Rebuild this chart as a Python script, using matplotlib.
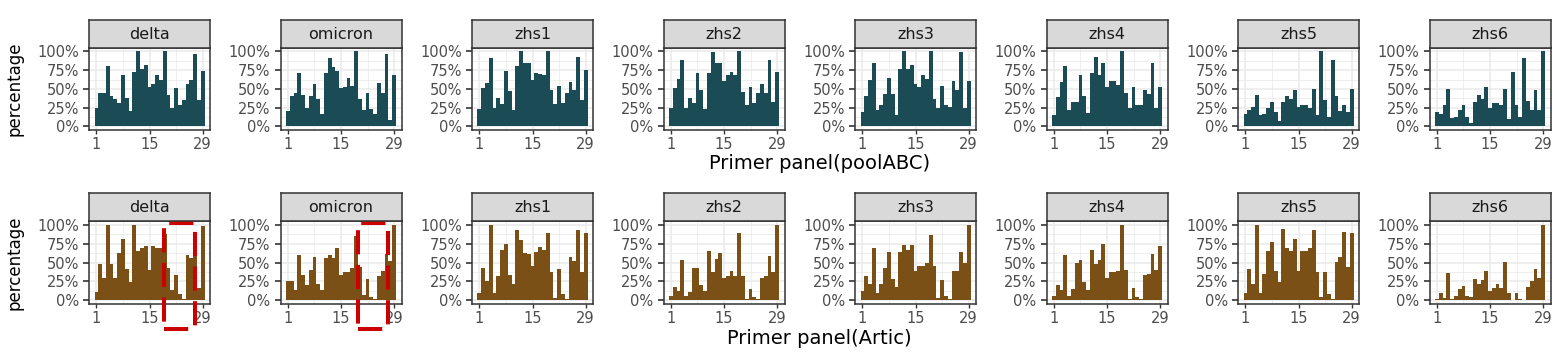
import numpy as np
import matplotlib
matplotlib.use("Agg")
import matplotlib.pyplot as plt
from matplotlib.patches import Rectangle
from matplotlib.ticker import FuncFormatter

# 样本 / 扩增子编号
samples = ["delta", "omicron", "zhs1", "zhs2", "zhs3", "zhs4", "zhs5", "zhs6"]
amplicons = np.arange(1, 30)
x_ticks = [1, 15, 29]
y_ticks = [0, 0.25, 0.5, 0.75, 1.0]

# poolABC 覆盖比例
abc_delta = [0.25, 0.44, 0.45, 0.81, 0.40, 0.36, 0.31, 0.68, 0.38, 0.20, 0.72, 1.00, 0.77, 0.82, 0.52,
             0.56, 0.68, 0.62, 1.00, 0.42, 0.25, 0.51, 0.29, 0.35, 0.57, 0.62, 0.96, 0.35, 0.74]
abc_omicron = [0.21, 0.40, 0.45, 0.71, 0.42, 0.25, 0.40, 0.57, 0.37, 0.17, 0.71, 0.91, 0.79, 0.74, 0.51,
               0.53, 0.64, 0.54, 1.00, 0.36, 0.22, 0.45, 0.23, 0.16, 0.58, 0.44, 0.97, 0.09, 0.68]
abc_zhs1 = [0.23, 0.51, 0.58, 0.91, 0.24, 0.38, 0.30, 0.74, 0.47, 0.22, 0.80, 1.00, 0.85, 0.84, 0.62,
            0.71, 0.70, 0.68, 1.00, 0.49, 0.30, 0.54, 0.31, 0.44, 0.59, 0.49, 0.92, 0.35, 0.75]
abc_zhs2 = [0.24, 0.51, 0.63, 0.88, 0.24, 0.38, 0.31, 0.71, 0.48, 0.23, 0.71, 0.99, 0.85, 0.84, 0.61,
            0.68, 0.72, 0.68, 1.00, 0.46, 0.28, 0.53, 0.31, 0.45, 0.56, 0.45, 0.88, 0.33, 0.73]
abc_zhs3 = [0.19, 0.40, 0.62, 0.84, 0.22, 0.28, 0.43, 0.65, 0.43, 0.15, 0.76, 1.00, 0.76, 0.82, 0.56,
            0.53, 0.69, 0.63, 1.00, 0.37, 0.24, 0.54, 0.28, 0.26, 0.61, 0.48, 0.99, 0.25, 0.61]
abc_zhs4 = [0.15, 0.39, 0.59, 0.80, 0.22, 0.33, 0.32, 0.68, 0.40, 0.18, 0.71, 0.92, 0.68, 0.84, 0.53,
            0.61, 0.61, 0.55, 1.00, 0.44, 0.24, 0.52, 0.28, 0.28, 0.48, 0.43, 0.84, 0.24, 0.52]
abc_zhs5 = [0.16, 0.22, 0.26, 0.42, 0.15, 0.17, 0.25, 0.32, 0.19, 0.07, 0.33, 0.40, 0.37, 0.48, 0.26,
            0.28, 0.28, 0.25, 0.50, 0.15, 1.00, 0.35, 0.13, 0.88, 0.40, 0.20, 0.28, 0.19, 0.50]
abc_zhs6 = [0.19, 0.17, 0.28, 0.50, 0.11, 0.13, 0.22, 0.29, 0.12, 0.04, 0.33, 0.42, 0.36, 0.52, 0.24,
            0.31, 0.31, 0.28, 0.50, 0.10, 0.73, 0.29, 0.12, 0.91, 0.34, 0.22, 0.48, 0.22, 1.00]

# Artic 覆盖比例
artic_delta = [0.11, 0.48, 0.30, 1.00, 0.48, 0.29, 0.63, 0.82, 0.42, 0.24, 1.00, 0.66, 0.70, 0.72, 0.40,
               0.72, 0.70, 0.70, 0.88, 0.43, 0.13, 0.34, 0.08, 0.01, 0.60, 0.56, 0.64, 0.16, 0.99]
artic_omicron = [0.26, 0.26, 0.14, 0.60, 0.34, 0.20, 0.40, 0.58, 0.22, 0.14, 0.56, 0.60, 0.56, 0.69, 0.34,
                 0.38, 0.38, 0.43, 0.85, 0.44, 0.07, 0.28, 0.04, 0.01, 0.32, 0.39, 0.62, 0.52, 1.00]
artic_zhs1 = [0.10, 0.43, 0.26, 1.00, 0.09, 0.32, 0.67, 0.75, 0.33, 0.21, 0.93, 0.80, 0.63, 0.62, 0.45,
              0.64, 0.71, 0.67, 0.89, 0.37, 0.03, 0.41, 0.08, 0.01, 0.58, 0.52, 0.94, 0.38, 0.90]
artic_zhs2 = [0.05, 0.17, 0.12, 0.53, 0.06, 0.11, 0.43, 0.43, 0.20, 0.12, 0.65, 0.37, 0.55, 0.63, 0.30,
              0.32, 0.39, 0.32, 0.90, 0.32, 0.01, 0.15, 0.04, 0.01, 0.29, 0.32, 0.59, 0.38, 1.00]
artic_zhs3 = [0.12, 0.32, 0.21, 0.69, 0.09, 0.22, 0.43, 0.64, 0.28, 0.18, 0.64, 0.74, 0.67, 0.74, 0.39,
              0.45, 0.45, 0.50, 0.87, 0.46, 0.03, 0.27, 0.05, 0.02, 0.39, 0.39, 0.64, 0.49, 1.00]
artic_zhs4 = [0.05, 0.20, 0.14, 0.60, 0.06, 0.15, 0.49, 0.53, 0.24, 0.13, 0.67, 0.48, 0.53, 0.75, 0.30,
              0.37, 0.37, 0.39, 1.00, 0.40, 0.02, 0.16, 0.04, 0.01, 0.34, 0.35, 0.62, 0.40, 0.72]
artic_zhs5 = [0.09, 0.41, 0.22, 1.00, 0.10, 0.35, 0.65, 0.77, 0.39, 0.24, 0.95, 0.69, 0.66, 0.81, 0.39,
              0.65, 0.66, 0.70, 0.94, 0.38, 0.04, 0.38, 0.08, 0.01, 0.51, 0.57, 0.91, 0.44, 0.89]
artic_zhs6 = [0.01, 0.10, 0.03, 0.36, 0.02, 0.06, 0.15, 0.19, 0.05, 0.04, 0.28, 0.22, 0.27, 0.39, 0.12,
              0.16, 0.22, 0.16, 0.51, 0.10, 0.00, 0.09, 0.01, 0.00, 0.18, 0.25, 0.41, 0.30, 1.00]

rows = [
    ("Primer panel(poolABC)", "#1B4C55",
     [abc_delta, abc_omicron, abc_zhs1, abc_zhs2, abc_zhs3, abc_zhs4, abc_zhs5, abc_zhs6]),
    ("Primer panel(Artic)", "#7A5016",
     [artic_delta, artic_omicron, artic_zhs1, artic_zhs2, artic_zhs3, artic_zhs4, artic_zhs5, artic_zhs6]),
]

# 红色虚线框（标注 Artic 中 delta / omicron 的低覆盖区域）
box_samples = ["delta", "omicron"]
box_x = [(18.85, 27.0), (19.5, 27.35)]
box_y = (-0.39, 1.03)

# 版式（像素）
W, H = 1567, 357
fig = plt.figure(figsize=(W / 100, H / 100), dpi=100)
left0, step, pw, ph, sh = 89, 191.5, 121, 82.5, 28
row_top = [47.7, 221.3]
xlab_y = [164, 338]


def rect(l, t, w, h):
    return [l / W, 1 - (t + h) / H, w / W, h / H]


pct = FuncFormatter(lambda v, p: f"{v * 100:.0f}%")
font = ["DejaVu Sans"]

for r, (title, color, series) in enumerate(rows):
    for i, (name, vals) in enumerate(zip(samples, series)):
        left = left0 + i * step
        ax = fig.add_axes(rect(left, row_top[r], pw, ph))
        ax.bar(amplicons, vals, width=1.0, color=color, zorder=2)
        ax.set_xlim(-0.95, 30.95)
        ax.set_ylim(-0.05, 1.05)
        ax.set_xticks(x_ticks)
        ax.set_xticks([8, 22], minor=True)
        ax.set_yticks(y_ticks)
        ax.set_yticks([0.125, 0.375, 0.625, 0.875], minor=True)
        ax.yaxis.set_major_formatter(pct)
        ax.set_axisbelow(True)
        ax.grid(which="major", color="#EBEBEB", lw=1.2)
        ax.grid(which="minor", color="#EBEBEB", lw=0.6)
        ax.tick_params(which="minor", length=0)
        ax.tick_params(axis="x", which="major", length=2.6, width=1.0, color="#333333",
                       labelcolor="#4D4D4D", labelsize=10.5, pad=2.5)
        ax.tick_params(axis="y", which="major", length=4.2, width=1.2, color="#333333",
                       labelcolor="#4D4D4D", labelsize=10.5, pad=3)
        for s in ax.spines.values():
            s.set_color("#333333")
            s.set_linewidth(1.1)
        for lab in ax.get_xticklabels() + ax.get_yticklabels():
            lab.set_family(font)

        # 分面标题条
        sax = fig.add_axes(rect(left, row_top[r] - sh, pw, sh))
        sax.set_facecolor("#D9D9D9")
        sax.set_xticks([])
        sax.set_yticks([])
        for s in sax.spines.values():
            s.set_color("#333333")
            s.set_linewidth(1.1)
        sax.text(0.5, 0.48, name, ha="center", va="center", fontsize=11.5,
                 color="#1A1A1A", family=font, transform=sax.transAxes)

        if r == 1 and name in box_samples:
            x0, x1 = box_x[box_samples.index(name)]
            ax.add_patch(Rectangle((x0, box_y[0]), x1 - x0, box_y[1] - box_y[0],
                                   fill=False, edgecolor="#CC0000", lw=2.9,
                                   linestyle=(0, (6, 2.6)), clip_on=False, zorder=10))

    # y 轴标题 & x 轴标题
    fig.text(15 / W, 1 - (row_top[r] + ph / 2) / H, "percentage", rotation=90,
             ha="center", va="center", fontsize=12, family=font)
    fig.text((left0 + (left0 + 7 * step + pw)) / 2 / W, 1 - xlab_y[r] / H, title,
             ha="center", va="center", fontsize=14, family=font)

fig.savefig("out.png", dpi=100, facecolor="white")
